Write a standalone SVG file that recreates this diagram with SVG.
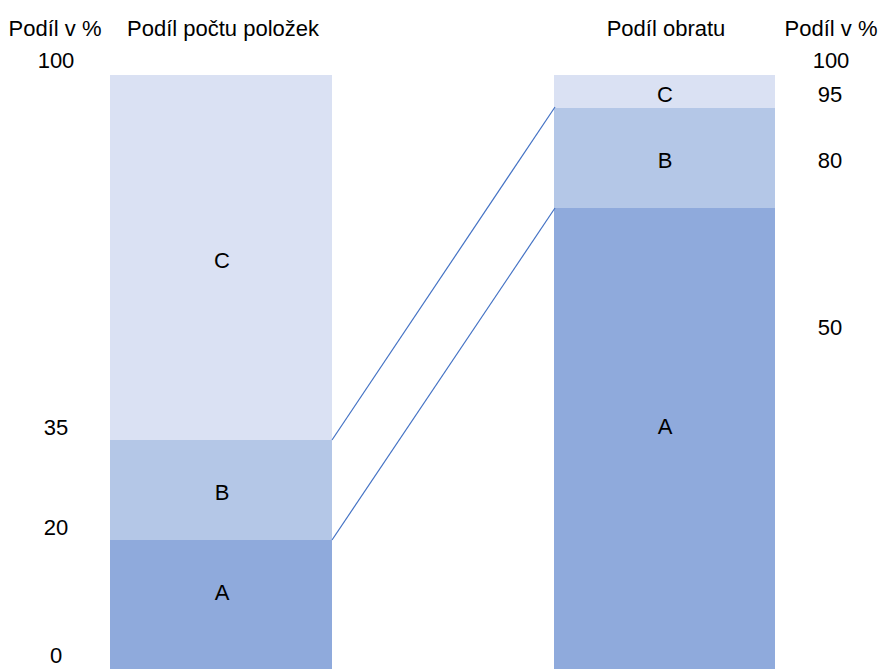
<svg xmlns="http://www.w3.org/2000/svg" width="879" height="669" viewBox="0 0 879 669">
<style>
text{font-family:"Liberation Sans",Arial,sans-serif;font-size:22px;fill:#000;text-anchor:middle}
.c{fill:#DAE1F3}
.b{fill:#B4C7E7}
.a{fill:#8FAADC}
.conn{stroke:#4472C4;stroke-width:1.2;fill:none}
</style>
<rect width="879" height="669" fill="#fff"/>
<g id="axis-left">
<text x="55" y="36">Podíl v %</text>
<text x="56" y="68">100</text>
<text x="56" y="435">35</text>
<text x="56" y="535">20</text>
<text x="56" y="663">0</text>
</g>
<g id="title-left"><text x="223" y="36">Podíl počtu položek</text></g>
<g id="left-C"><rect class="c" x="110" y="75" width="222" height="365"/><text x="222" y="268">C</text></g>
<g id="left-B"><rect class="b" x="110" y="440" width="222" height="100"/><text x="222" y="500">B</text></g>
<g id="left-A"><rect class="a" x="110" y="540" width="222" height="129"/><text x="222" y="600">A</text></g>
<g id="title-right"><text x="666" y="36">Podíl obratu</text></g>
<g id="right-C"><rect class="c" x="554" y="75" width="221" height="33"/><text x="665" y="102">C</text></g>
<g id="right-B"><rect class="b" x="554" y="108" width="221" height="100"/><text x="665" y="168">B</text></g>
<g id="right-A"><rect class="a" x="554" y="208" width="221" height="461"/><text x="665" y="434">A</text></g>
<g id="axis-right">
<text x="831" y="36">Podíl v %</text>
<text x="831" y="68">100</text>
<text x="830" y="102">95</text>
<text x="830" y="168">80</text>
<text x="830" y="335">50</text>
</g>
<g id="connectors">
<line class="conn" x1="332" y1="440" x2="555" y2="107"/>
<line class="conn" x1="332" y1="540" x2="555" y2="208"/>
</g>
</svg>
